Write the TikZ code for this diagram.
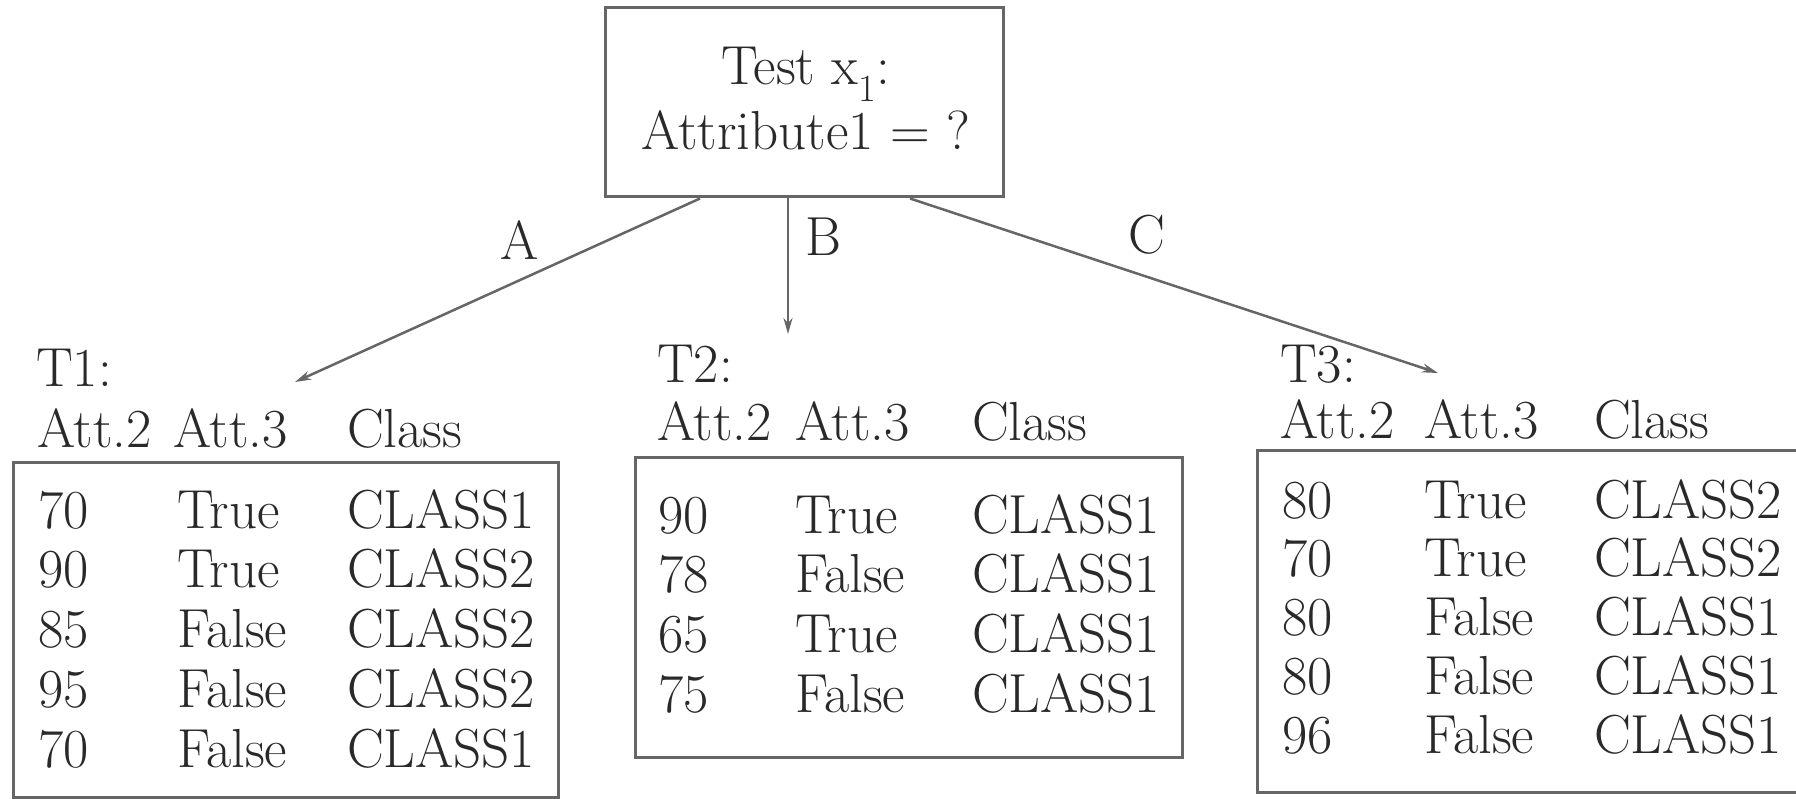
\documentclass[tikz,border=0pt]{standalone}
\usetikzlibrary{arrows.meta}
\definecolor{ink}{gray}{0.16}
\definecolor{rule}{gray}{0.40}
\tikzset{
  txt/.style={anchor=base west, inner sep=0pt, text=ink, font=\fontsize{55}{60}\selectfont},
  lbl/.style={inner sep=0pt, text=ink, font=\fontsize{55}{60}\selectfont},
  frame/.style={draw=rule, line width=3pt, inner sep=0pt, rectangle},
  branch/.style={draw=rule, line width=2.5pt, -{Stealth[length=16pt,width=9pt]}},
}
\begin{document}
\begin{tikzpicture}[x=1pt,y=-1pt]
\useasboundingbox (0,0) rectangle (1796,799);
\fill[white] (0,0) rectangle (1796,799);
\clip (0,0) rectangle (1796,799);

% test node at the root
\node[frame, minimum width=398pt, minimum height=189pt] (root) at (804,102.5) {};
\node[lbl, align=center] (roottext) at (806,99) {Test x\textsubscript{1}:\\[5pt]Attribute1 = ?};

% subsets after the split
\node[frame, minimum width=545pt, minimum height=335pt] (tab1) at (285.5,629.5) {};
\node[frame, minimum width=547pt, minimum height=300pt] (tab2) at (908.5,607) {};
\node[frame, minimum width=553pt, minimum height=342pt] (tab3) at (1533.5,621) {};

% table titles and headers
\node[txt] (t1name) at (36,386) {T1:};
\node[txt] (t1h1) at (37,447) {Att.2};
\node[txt] (t1h2) at (173,447) {Att.3};
\node[txt] (t1h3) at (347,447) {Class};

\node[txt] (t2name) at (657,382) {T2:};
\node[txt] (t2h1) at (657,440) {Att.2};
\node[txt] (t2h2) at (795,440) {Att.3};
\node[txt] (t2h3) at (972,440) {Class};

\node[txt] (t3name) at (1280,383) {T3:};
\node[txt] (t3h1) at (1280,438) {Att.2};
\node[txt] (t3h2) at (1424,438) {Att.3};
\node[txt] (t3h3) at (1594,438) {Class};

% table rows
\foreach \a/\b/\c [count=\i] in {70/True/CLASS1, 90/True/CLASS2, 85/False/CLASS2, 95/False/CLASS2, 70/False/CLASS1}{
  \pgfmathsetmacro{\yy}{528+(\i-1)*59.75}
  \node[txt] (t1a\i) at (38,\yy) {\a};
  \node[txt] (t1b\i) at (177,\yy) {\b};
  \node[txt] (t1c\i) at (347,\yy) {\c};
}
\foreach \a/\b/\c [count=\i] in {90/True/CLASS1, 78/False/CLASS1, 65/True/CLASS1, 75/False/CLASS1}{
  \pgfmathsetmacro{\yy}{533+(\i-1)*59.7}
  \node[txt] (t2a\i) at (658,\yy) {\a};
  \node[txt] (t2b\i) at (795,\yy) {\b};
  \node[txt] (t2c\i) at (972,\yy) {\c};
}
\foreach \a/\b/\c [count=\i] in {80/True/CLASS2, 70/True/CLASS2, 80/False/CLASS1, 80/False/CLASS1, 96/False/CLASS1}{
  \pgfmathsetmacro{\yy}{518+(\i-1)*58.75}
  \node[txt] (t3a\i) at (1282,\yy) {\a};
  \node[txt] (t3b\i) at (1424,\yy) {\b};
  \node[txt] (t3c\i) at (1594,\yy) {\c};
}

% branches
\coordinate (endA) at (295,382);
\coordinate (endB) at (788,334);
\coordinate (endC) at (1438,373);
\draw[branch] ([xshift=-104pt]root.south) -- (endA);
\draw[branch] ([xshift=-16pt]root.south) -- (endB);
\draw[branch] ([xshift=106pt]root.south) -- (endC);
\node[lbl] (labA) at (520,240) {A};
\node[lbl] (labB) at (823,237) {B};
\node[lbl] (labC) at (1147,235) {C};
\end{tikzpicture}
\end{document}
